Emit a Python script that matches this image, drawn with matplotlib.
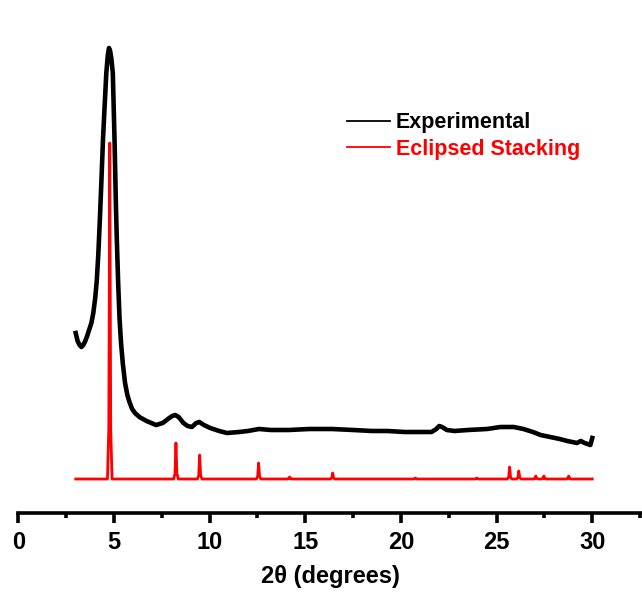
import numpy as np
import matplotlib
matplotlib.use("Agg")
import matplotlib.pyplot as plt
from matplotlib.ticker import MultipleLocator

plt.rcParams["font.family"] = ["Liberation Sans", "DejaVu Sans"]
plt.rcParams["font.weight"] = "bold"

# Experimental PXRD pattern (2θ in degrees, intensity in a.u.)
exp_2theta = [3.00, 3.10, 3.20, 3.30, 3.40, 3.50, 3.60, 3.70, 3.82, 3.92,
              4.02, 4.10, 4.18, 4.26, 4.34, 4.43, 4.51, 4.60, 4.68, 4.74,
              4.80, 4.86, 4.94, 5.03, 5.10, 5.15, 5.22, 5.29, 5.37, 5.46,
              5.58, 5.70, 5.81, 5.95, 6.10, 6.33, 6.70, 7.20, 7.55, 7.89,
              8.05, 8.20, 8.38, 8.63, 8.85, 9.07, 9.30, 9.46, 9.70, 10.03,
              10.50, 10.90, 11.54, 12.00, 12.58, 13.2, 14.14, 15.2, 16.4, 17.5,
              18.5, 19.3, 20.2, 21.2, 21.6, 21.85, 22.0, 22.15, 22.4, 22.8,
              23.5, 24.5, 25.2, 25.9, 26.4, 26.9, 27.3, 27.8, 28.3, 28.7,
              29.2, 29.4, 29.6, 29.9, 30.0]
exp_intensity = [180, 172, 168, 166, 168, 172, 177, 183, 190, 200,
                 215, 232, 258, 292, 330, 375, 406, 440, 458, 465,
                 462, 455, 440, 373, 310, 273, 230, 195, 170, 150,
                 130, 118, 111, 104, 100, 96, 92, 88, 90, 95,
                 97, 98, 96, 90, 87, 86, 90, 91, 88, 85,
                 82, 80, 81, 82, 84, 83, 83, 84, 84, 83,
                 82, 82, 81, 81, 81, 84, 87, 86, 83, 82,
                 83, 84, 86, 86, 84, 81, 78, 76, 74, 72,
                 70, 72, 70, 68, 75]

# Simulated pattern for the eclipsed (AA) stacking model
sim_baseline = 34
sim_peaks = [4.78, 8.24, 9.48, 12.56, 14.18, 16.43, 20.75, 23.96,
             25.68, 26.16, 27.05, 27.47, 28.77]
sim_heights = [370, 70, 58, 50, 36, 40, 35, 35,
               46, 42, 37, 37, 37]
sim_range = (3.0, 30.0)

# stick-like profile: baseline -> apex -> baseline for each reflection
sim_x = [sim_range[0]]
sim_y = [sim_baseline]
for pos, h in zip(sim_peaks, sim_heights):
    sim_x += [pos - 0.12, pos - 0.05, pos, pos + 0.05, pos + 0.12]
    sim_y += [sim_baseline, sim_baseline + 0.15 * (h - sim_baseline), h,
              sim_baseline + 0.15 * (h - sim_baseline), sim_baseline]
sim_x.append(sim_range[1])
sim_y.append(sim_baseline)

fig = plt.figure(figsize=(6.42, 5.92), dpi=100)
ax = fig.add_axes([18.3 / 642, 79 / 592, 1 - 18.3 / 642, 493 / 592])

ax.plot(exp_2theta, exp_intensity, color="black", lw=3.3,
        solid_joinstyle="round", label="Experimental")
ax.plot(sim_x, sim_y, color="red", lw=2.0, label="Eclipsed Stacking")

ax.set_xlim(0, 32.6)
ax.set_ylim(0, 493)

for side in ("left", "top", "right"):
    ax.spines[side].set_visible(False)
ax.spines["bottom"].set_linewidth(2.6)
ax.set_yticks([])
ax.xaxis.set_major_locator(MultipleLocator(5))
ax.xaxis.set_minor_locator(MultipleLocator(2.5))
ax.tick_params(axis="x", which="major", direction="out", length=7,
               width=2.6, labelsize=17, pad=6)
ax.tick_params(axis="x", which="minor", direction="out", length=3.5,
               width=2.6)
ax.set_xlabel("2θ (degrees)", fontsize=17, fontweight="bold", labelpad=8)

leg = ax.legend(loc="upper left", bbox_to_anchor=(328 / 642, 1 - 93 / 592),
                bbox_transform=fig.transFigure, frameon=False,
                prop={"size": 15.5, "weight": "bold"}, handlelength=2.0,
                handletextpad=0.25, labelspacing=0.25)
for line in leg.get_lines():
    line.set_linewidth(1.3)
for text, c in zip(leg.get_texts(), ["black", "red"]):
    text.set_color(c)

fig.savefig("out.png", dpi=100)
